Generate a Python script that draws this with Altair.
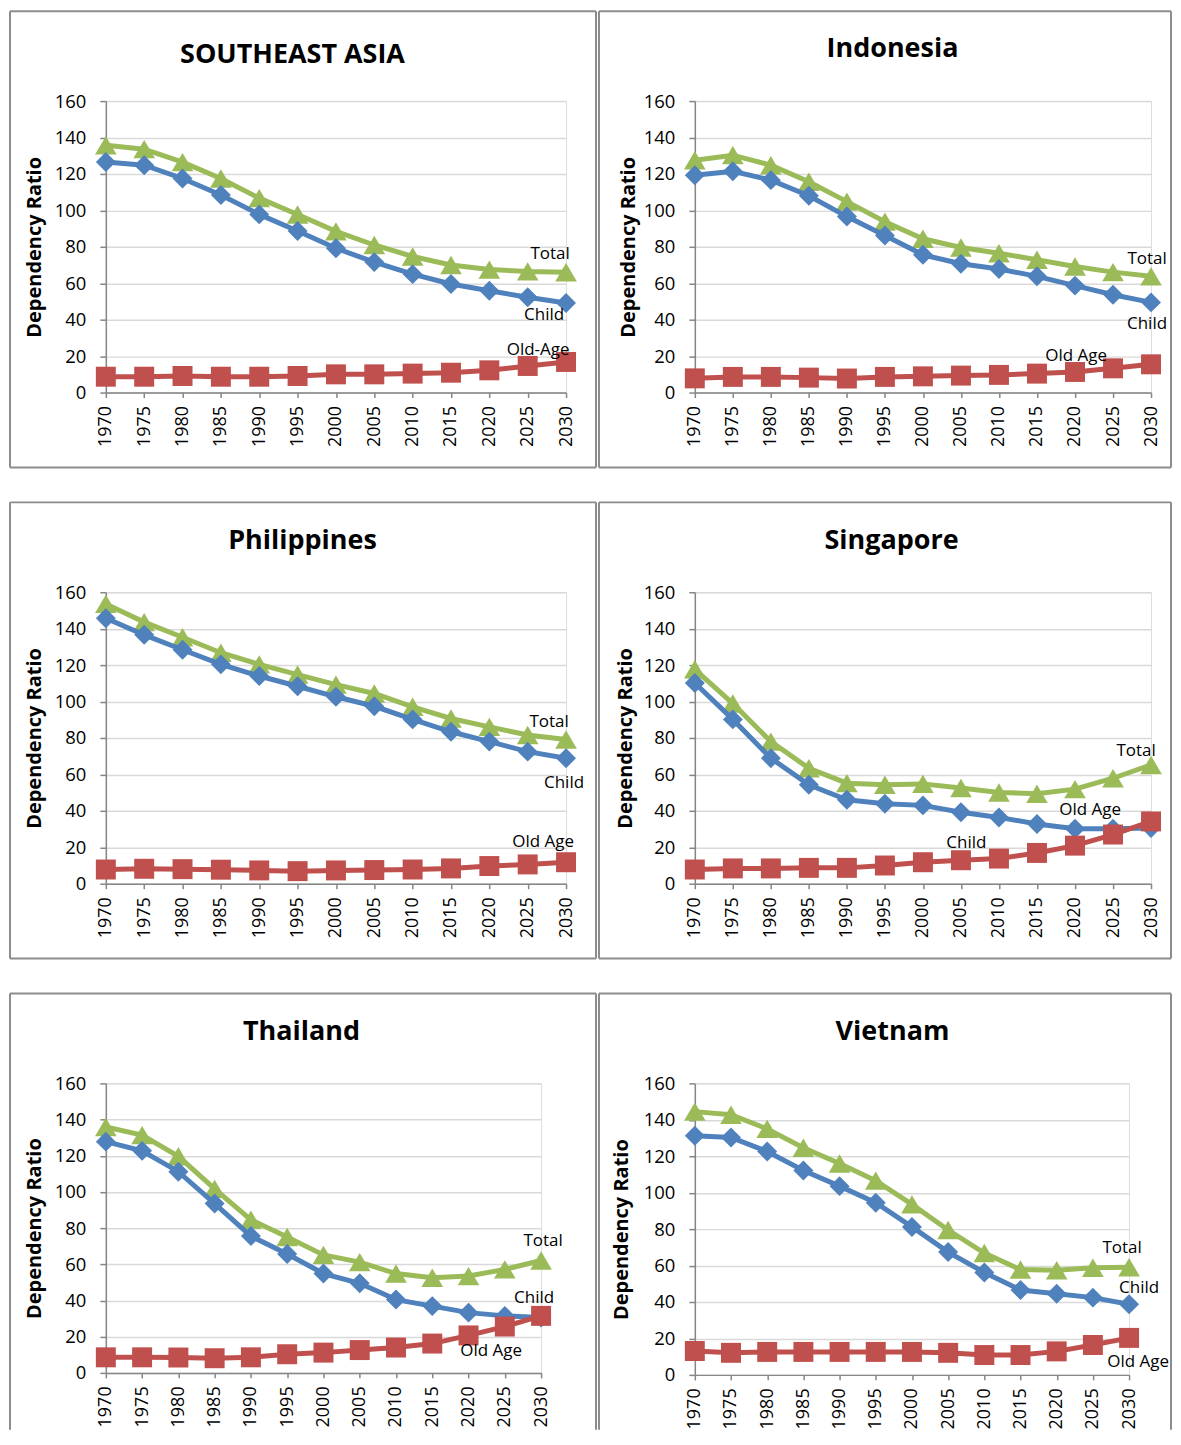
import altair as alt
import pandas as pd

YEARS = [1970, 1975, 1980, 1985, 1990, 1995, 2000, 2005, 2010, 2015, 2020, 2025, 2030]
Y_TICKS = [0, 20, 40, 60, 80, 100, 120, 140, 160]

# ---- data ----
sea_total = [135.7, 133.6, 126.5, 117.5, 106.7, 97.7, 88.5, 81.0, 74.7, 70.0, 67.5, 66.5, 66.0]
sea_child = [126.6, 124.8, 117.5, 108.4, 97.8, 88.7, 79.2, 71.6, 65.0, 59.6, 55.9, 52.3, 49.2]
sea_old = [8.7, 8.7, 9.1, 8.7, 8.7, 9.1, 10.0, 10.0, 10.4, 10.9, 12.2, 14.6, 16.8]

ind_total = [127.5, 130.3, 124.8, 115.7, 104.8, 93.8, 84.4, 79.6, 76.5, 72.9, 69.2, 66.1, 63.8]
ind_child = [119.3, 121.5, 116.6, 108.0, 96.6, 86.2, 75.6, 70.7, 67.8, 63.8, 58.7, 53.7, 49.5]
ind_old = [7.8, 8.6, 8.6, 8.2, 7.7, 8.6, 8.9, 9.3, 9.7, 10.4, 11.3, 13.3, 15.5]

phi_total = [153.6, 143.6, 135.3, 126.8, 120.4, 114.8, 109.3, 104.4, 97.1, 90.7, 86.1, 81.6, 79.2]
phi_child = [145.7, 136.6, 128.4, 120.4, 114.0, 108.4, 102.6, 97.4, 90.2, 83.4, 78.0, 72.5, 68.9]
phi_old = [7.8, 8.2, 8.0, 7.7, 7.3, 6.9, 7.3, 7.5, 7.8, 8.4, 9.7, 10.6, 11.8]

sgp_total = [117.7, 98.9, 78.0, 63.4, 55.2, 54.3, 54.8, 52.5, 50.1, 49.4, 51.9, 57.9, 65.2]
sgp_child = [110.2, 90.2, 68.9, 54.3, 46.1, 43.9, 43.0, 39.2, 36.4, 32.8, 30.2, 30.2, 30.6]
sgp_old = [7.8, 8.4, 8.4, 8.7, 8.7, 10.0, 11.8, 12.9, 13.8, 16.9, 20.9, 27.0, 34.2]

tha_total = [135.9, 131.4, 119.7, 101.7, 84.6, 75.1, 65.2, 61.2, 54.9, 52.6, 53.5, 57.2, 62.1]
tha_child = [127.8, 122.7, 111.2, 93.6, 75.6, 65.7, 54.9, 49.5, 40.5, 36.9, 33.3, 31.5, 30.6]
tha_old = [8.6, 8.6, 8.5, 8.1, 8.6, 10.3, 11.2, 12.6, 14.0, 16.2, 20.7, 25.6, 31.5]

vnm_total = [144.5, 142.8, 135.0, 124.7, 116.0, 106.6, 93.6, 79.5, 66.9, 57.8, 57.4, 58.8, 59.1]
vnm_child = [131.2, 130.3, 122.6, 112.2, 103.6, 94.5, 81.2, 67.4, 56.2, 46.6, 44.5, 42.4, 38.8]
vnm_old = [13.1, 12.1, 12.6, 12.6, 12.6, 12.6, 12.6, 12.1, 10.9, 10.9, 12.9, 16.4, 20.3]

TITLES = ["SOUTHEAST ASIA", "Indonesia", "Philippines", "Singapore", "Thailand", "Vietnam"]
OLD_LABELS = ["Old-Age", "Old Age", "Old Age", "Old Age", "Old Age", "Old Age"]
TOTALS = [sea_total, ind_total, phi_total, sgp_total, tha_total, vnm_total]
CHILDS = [sea_child, ind_child, phi_child, sgp_child, tha_child, vnm_child]
OLDS = [sea_old, ind_old, phi_old, sgp_old, tha_old, vnm_old]

# ---- styles / layout (pixels) ----
FONT = "Open Sans"
COL_TOTAL, COL_CHILD, COL_OLD = "#9BBB59", "#4F81BD", "#C0504D"
BORDER_COL = "#8C8C8C"
TRIANGLE = "M0,-0.85L1,0.85L-1,0.85Z"

LAYOUT = [
    dict(w=461, h=292, border=(-96, 491, -90, 367), bottom=True, title=(187, -46), ytx=-71,
         off={"Total": (-16, -18), "Child": (-22, 12), "Old": (-28, -12)}),
    dict(w=457, h=292, border=(-96, 477, -90, 367), bottom=True, title=(198, -52), ytx=-66,
         off={"Total": (-4, -17), "Child": (-4, 22), "Old": (-75, -8)}),
    dict(w=461, h=292, border=(-96, 491, -90, 367), bottom=True, title=(197, -51), ytx=-71,
         off={"Total": (-17, -17), "Child": (-2, 25), "Old": (-23, -20)}),
    dict(w=457, h=292, border=(-96, 477, -90, 367), bottom=True, title=(197, -51), ytx=-69,
         off={"Total": (-15, -14), "Child": (-185, 15), "Old": (-61, -11)}),
    dict(w=436, h=290, border=(-96, 491, -90, 347), bottom=False, title=(196, -51), ytx=-71,
         off={"Total": (2, -20), "Child": (-7, -20), "Old": (-50, 35)}),
    dict(w=435, h=292, border=(-96, 477, -90, 347), bottom=False, title=(198, -51), ytx=-73,
         off={"Total": (-7, -19), "Child": (10, -16), "Old": (9, 24)}),
]


def panel(i):
    L = LAYOUT[i]
    w, h = L["w"], L["h"]
    series = {"Total": TOTALS[i], "Child": CHILDS[i], "Old": OLDS[i]}
    texts = {"Total": "Total", "Child": "Child", "Old": OLD_LABELS[i]}

    x_enc = alt.X("year:Q",
                  scale=alt.Scale(domain=[YEARS[0], YEARS[-1]], nice=False, zero=False),
                  axis=alt.Axis(values=YEARS, format="d", labelAngle=270, grid=False,
                                domainColor="#868686", domainWidth=1.5, tickColor="#868686",
                                tickWidth=1.5, tickSize=5, labelPadding=8, labelFont=FONT,
                                labelFontSize=18, labelColor="#000000", title=None))
    y_enc = alt.Y("value:Q",
                  scale=alt.Scale(domain=[0, 160], nice=False),
                  axis=alt.Axis(values=Y_TICKS, grid=True, gridColor="#D9D9D9", gridWidth=1.5,
                                domainColor="#868686", domainWidth=1.5, tickColor="#868686",
                                tickWidth=1.5, tickSize=6, labelPadding=14, labelFont=FONT,
                                labelFontSize=18.5, labelColor="#000000",
                                title="Dependency Ratio", titleFont=FONT, titleFontSize=20,
                                titleFontWeight="bold", titleColor="#000000",
                                titleX=L["ytx"], titleY=h / 2, titleAngle=270,
                                titleBaseline="middle", titleAlign="center"))

    layers = []
    one = alt.Data(values=[{"t": TITLES[i]}])
    bx1, bx2, by1, by2 = L["border"]
    # panel frame
    layers.append(alt.Chart(one).mark_rule(color=BORDER_COL, strokeWidth=2).encode(
        x=alt.value(bx1), x2=alt.value(bx2), y=alt.value(by1)))
    layers.append(alt.Chart(one).mark_rule(color=BORDER_COL, strokeWidth=2).encode(
        x=alt.value(bx1), y=alt.value(by1), y2=alt.value(by2)))
    layers.append(alt.Chart(one).mark_rule(color=BORDER_COL, strokeWidth=2).encode(
        x=alt.value(bx2), y=alt.value(by1), y2=alt.value(by2)))
    if L["bottom"]:
        layers.append(alt.Chart(one).mark_rule(color=BORDER_COL, strokeWidth=2).encode(
            x=alt.value(bx1), x2=alt.value(bx2), y=alt.value(by2)))
    # panel title
    tx, ty = L["title"]
    layers.append(alt.Chart(one).mark_text(font=FONT, fontSize=27, fontWeight="bold",
                                           color="#000000", align="center",
                                           baseline="middle").encode(
        text="t:N", x=alt.value(tx), y=alt.value(ty)))

    styles = [("Total", COL_TOTAL, TRIANGLE, 470),
              ("Child", COL_CHILD, "diamond", 400),
              ("Old", COL_OLD, "square", 400)]
    for key, col, shape, size in styles:
        df = pd.DataFrame({"year": YEARS, "value": series[key]})
        base = alt.Chart(df).encode(x=x_enc, y=y_enc)
        layers.append(base.mark_line(color=col, strokeWidth=5))
        layers.append(base.mark_point(shape=shape, size=size, filled=True, color=col,
                                      opacity=1, strokeWidth=0))
    for key in ["Total", "Child", "Old"]:
        dfl = pd.DataFrame({"year": [YEARS[-1]], "value": [series[key][-1]],
                            "label": [texts[key]]})
        dx, dy = L["off"][key]
        layers.append(alt.Chart(dfl).mark_text(font=FONT, fontSize=17, color="#000000",
                                               align="center", baseline="middle",
                                               dx=dx, dy=dy).encode(
            x=x_enc, y=y_enc, text="label:N"))
    return alt.layer(*layers).properties(width=w, height=h)


chart = alt.concat(*[panel(i) for i in range(6)], columns=2, bounds="flush",
                   spacing={"row": 200, "column": 129}).properties(padding=0).configure_view(
    strokeWidth=0).configure(background="#ffffff")

chart.save("out.html", embed_options={"renderer": "svg", "actions": False})
